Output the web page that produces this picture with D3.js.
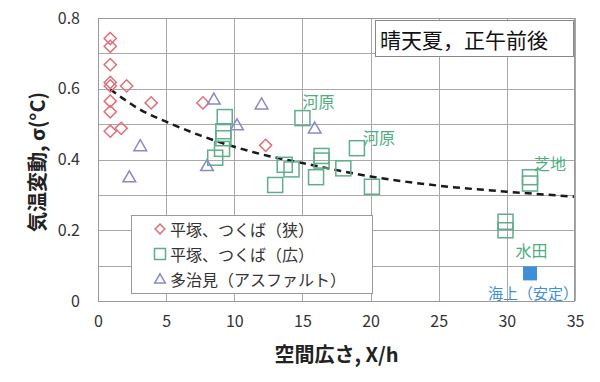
<!DOCTYPE html>
<html><head><meta charset="utf-8">
<script src="https://cdn.jsdelivr.net/npm/d3@7"></script>
<style>body{margin:0;background:#fff}svg{display:block}</style>
</head><body>
<script>
// ---- data ----
const narrow = [[0.9,0.742],[0.9,0.72],[0.9,0.668],[0.9,0.618],[0.9,0.608],[2.1,0.608],[0.9,0.565],[0.9,0.535],[3.9,0.56],[7.7,0.56],[0.9,0.48],[1.7,0.488],[12.3,0.44]];
const wide = [[8.6,0.405],[9.1,0.43],[9.2,0.46],[9.2,0.48],[9.3,0.52],[13.0,0.328],[13.7,0.385],[14.2,0.372],[15.0,0.517],[16.0,0.35],[16.4,0.41],[16.4,0.397],[18.0,0.375],[19.0,0.432],[20.1,0.323],[29.9,0.224],[29.9,0.2],[31.7,0.35],[31.7,0.332]];
const tajimi = [[2.3,0.35],[3.1,0.438],[8.0,0.382],[8.5,0.57],[10.2,0.497],[12.0,0.556],[15.9,0.488]];
const sea = [[31.7,0.078]];
const fitCurve = [[0.9,0.598],[2,0.568],[3,0.543],[5,0.507],[7.5,0.468],[10,0.436],[12.5,0.41],[15,0.39],[20,0.352],[25,0.326],[30,0.309],[35,0.295]];
const xTicks = [0,5,10,15,20,25,30,35];
const yTicks = [0,0.2,0.4,0.6,0.8];
const legendLabels = ["平塚、つくば（狭）","平塚、つくば（広）","多治見（アスファルト）"];
const annotations = [
  {text:"河原", x:15.0, y:0.517, dx:0, dy:-17, color:"#4fae7e"},
  {text:"河原", x:19.0, y:0.432, dx:6, dy:-11, color:"#4fae7e"},
  {text:"芝地", x:31.7, y:0.35, dx:4, dy:-14, color:"#4fae7e"},
  {text:"水田", x:29.9, y:0.2, dx:10, dy:20, color:"#4fae7e"},
  {text:"海上（安定）", x:31.7, y:0.078, dx:-42, dy:19, color:"#3d8fd6"}
];
const title = "晴天夏，正午前後";
const xLabel = "空間広さ, X/h";
const yLabel = "気温変動, σ(°C)";

// ---- chart ----
const W=600,H=382;
const L=98,R=575,T=18,B=301;
const font = "'Noto Sans CJK JP','Noto Sans',sans-serif";
const svg=d3.select("body").append("svg").attr("width",W).attr("height",H).style("font-family",font);
const x=d3.scaleLinear().domain([0,35]).range([L,R]);
const y=d3.scaleLinear().domain([0,0.8]).range([B,T]);

const grid=svg.append("g").attr("stroke","#a8a8a8").attr("stroke-width",1);
grid.selectAll("line.h").data(d3.range(0,0.81,0.1)).join("line")
  .attr("x1",L).attr("x2",R).attr("y1",d=>Math.round(y(d))+0.5).attr("y2",d=>Math.round(y(d))+0.5);
grid.selectAll("line.v").data(xTicks).join("line")
  .attr("y1",T).attr("y2",B).attr("x1",d=>Math.round(x(d))+0.5).attr("x2",d=>Math.round(x(d))+0.5);

// axes labels via d3 axes
const xa=svg.append("g").attr("transform",`translate(0,${B})`)
  .call(d3.axisBottom(x).tickValues(xTicks).tickSize(0).tickPadding(15).tickFormat(d3.format("d")));
xa.select(".domain").remove();
xa.selectAll("text").attr("font-size",16).attr("fill","#333").style("font-family",font);
const ya=svg.append("g").attr("transform",`translate(${L},0)`)
  .call(d3.axisLeft(y).tickValues(yTicks).tickSize(0).tickPadding(18).tickFormat(d=>d===0?"0":d3.format(".1f")(d)));
ya.select(".domain").remove();
ya.selectAll("text").attr("font-size",16).attr("fill","#333").style("font-family",font);

// fit curve
svg.append("path").datum(fitCurve)
  .attr("d",d3.line().x(d=>x(d[0])).y(d=>y(d[1])).curve(d3.curveMonotoneX))
  .attr("fill","none").attr("stroke","#1a1a1a").attr("stroke-width",2.5).attr("stroke-dasharray","7,5");

const red="#e0707a", green="#5fae8a", purple="#8a8ac6";
const diamond=d3.symbol().type(d3.symbolDiamond2).size(95);
const triangle=d3.symbol().type(d3.symbolTriangle).size(70);

svg.append("g").selectAll("path").data(narrow).join("path")
  .attr("d",diamond).attr("transform",d=>`translate(${x(d[0])},${y(d[1])})`)
  .attr("fill","none").attr("stroke",red).attr("stroke-width",1.5);
svg.append("g").selectAll("rect").data(wide).join("rect")
  .attr("x",d=>x(d[0])-7.5).attr("y",d=>y(d[1])-7.5).attr("width",15).attr("height",15)
  .attr("fill","none").attr("stroke",green).attr("stroke-width",1.5);
svg.append("g").selectAll("path").data(tajimi).join("path")
  .attr("d",triangle).attr("transform",d=>`translate(${x(d[0])},${y(d[1])+1})`)
  .attr("fill","none").attr("stroke",purple).attr("stroke-width",1.5);
svg.append("g").selectAll("rect").data(sea).join("rect")
  .attr("x",d=>x(d[0])-7).attr("y",d=>y(d[1])-7).attr("width",14).attr("height",14)
  .attr("fill","#3f8fd8");

// annotations
svg.append("g").selectAll("text").data(annotations).join("text")
  .attr("x",d=>x(d.x)+d.dx).attr("y",d=>y(d.y)+d.dy).attr("dominant-baseline","central")
  .attr("font-size",d=>d.text.length>2?15:16).attr("fill",d=>d.color).text(d=>d.text);

// plot frame
svg.append("rect").attr("x",L+0.5).attr("y",T+0.5).attr("width",R-L-1).attr("height",B-T)
  .attr("fill","none").attr("stroke","#999");

// title box
svg.append("rect").attr("x",375.5).attr("y",20.5).attr("width",198).attr("height",36)
  .attr("fill","#fff").attr("stroke","#888");
svg.append("text").attr("x",380).attr("y",39).attr("dominant-baseline","central")
  .attr("font-size",21).attr("fill","#111").text(title);

// legend
const lg=svg.append("g");
lg.append("rect").attr("x",131.5).attr("y",215.5).attr("width",241).attr("height",78)
  .attr("fill","#fff").attr("stroke","#999");
const rows=[229,254,279];
lg.append("path").attr("d",d3.symbol().type(d3.symbolDiamond2).size(60))
  .attr("transform",`translate(160,${rows[0]})`).attr("fill","none").attr("stroke",red).attr("stroke-width",1.5);
lg.append("rect").attr("x",154.5).attr("y",rows[1]-5.5).attr("width",11).attr("height",11)
  .attr("fill","none").attr("stroke",green).attr("stroke-width",1.5);
lg.append("path").attr("d",d3.symbol().type(d3.symbolTriangle).size(50))
  .attr("transform",`translate(160,${rows[2]+1})`).attr("fill","none").attr("stroke",purple).attr("stroke-width",1.5);
lg.selectAll("text").data(legendLabels).join("text")
  .attr("x",170).attr("y",(d,i)=>rows[i]).attr("dominant-baseline","central")
  .attr("font-size",16).attr("fill","#333").text(d=>d);

// axis titles
svg.append("text").attr("x",(L+R)/2).attr("y",353).attr("text-anchor","middle").attr("dominant-baseline","central")
  .attr("font-size",20).attr("font-weight","bold").attr("fill","#222").text(xLabel);
svg.append("text").attr("transform","translate(36,162) rotate(-90)").attr("text-anchor","middle").attr("dominant-baseline","central")
  .attr("font-size",20).attr("font-weight","bold").attr("fill","#222").text(yLabel);
</script>
</body></html>
